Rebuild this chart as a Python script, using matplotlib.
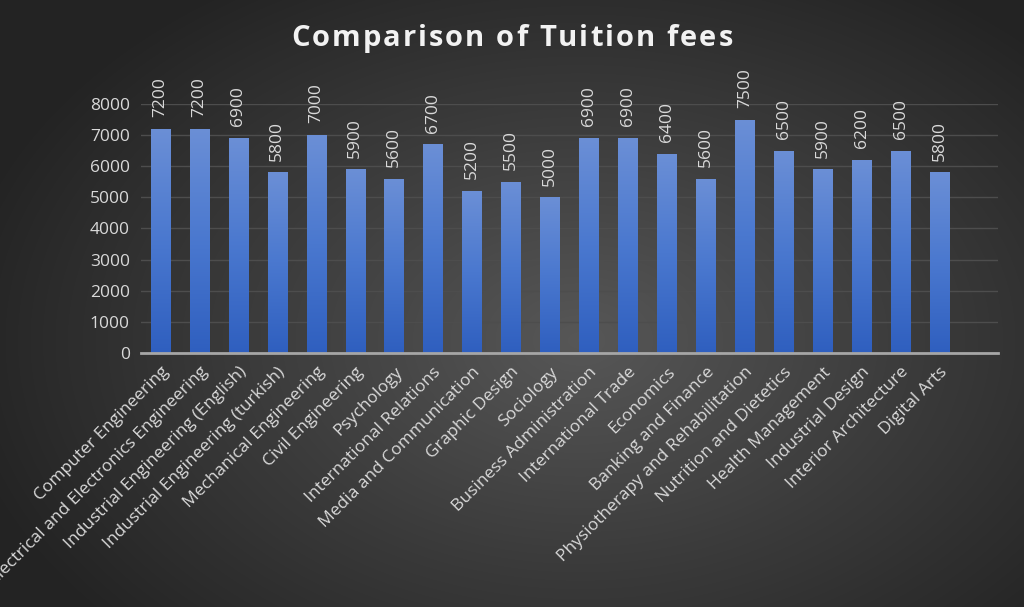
import numpy as np
import matplotlib.pyplot as plt
from matplotlib.colors import LinearSegmentedColormap

plt.rcParams['font.family'] = ['Open Sans', 'DejaVu Sans']

programs = ["Computer Engineering", "Electrical and Electronics Engineering",
            "Industrial Engineering (English)", "Industrial Engineering (turkish)",
            "Mechanical Engineering", "Civil Engineering", "Psychology",
            "International Relations", "Media and Communication", "Graphic Design",
            "Sociology", "Business Administration", "International Trade", "Economics",
            "Banking and Finance", "Physiotherapy and Rehabilitation",
            "Nutrition and Dietetics", "Health Management", "Industrial Design",
            "Interior Architecture", "Digital Arts", ""]
fees = [7200, 7200, 6900, 5800, 7000, 5900, 5600, 6700, 5200, 5500, 5000,
        6900, 6900, 6400, 5600, 7500, 6500, 5900, 6200, 6500, 5800]
title = 'Comparison of Tuition fees'

txt = '#d9d9d9'

fig = plt.figure(figsize=(10.24, 6.07), dpi=100)

# radial background
bg = fig.add_axes([0, 0, 1, 1], zorder=-10)
yy, xx = np.mgrid[0:607, 0:1024]
r = np.sqrt(((xx - 580) / 640.0) ** 2 + ((yy - 340) / 430.0) ** 2)
r = np.clip(r, 0, 1)
bgcmap = LinearSegmentedColormap.from_list('bg', ['#575757', '#3c3c3c', '#232323'])
bg.imshow(r, cmap=bgcmap, aspect='auto', vmin=0, vmax=1)
bg.axis('off')

ax = fig.add_axes([0.1377, 0.4185, 0.8369, 0.4102])
ax.patch.set_alpha(0)

x = np.arange(len(fees))
bars = ax.bar(x, fees, width=0.5, color='#4472c4', zorder=3)

# vertical gradient inside each bar
barcmap = LinearSegmentedColormap.from_list('bar', ['#2f5fbf', '#4a78cf', '#6b8fd6'])
grad = np.linspace(0, 1, 256).reshape(-1, 1)
for b in bars:
    bx, bw, bh = b.get_x(), b.get_width(), b.get_height()
    im = ax.imshow(grad, cmap=barcmap, origin='lower', aspect='auto',
                   extent=[bx, bx + bw, 0, bh], zorder=4)
    im.set_clip_path(b)
    ax.text(bx + bw / 2, bh + 380, str(bh), rotation=90, ha='center', va='bottom',
            color=txt, fontsize=12.5, clip_on=False)

ax.set_xlim(-0.5, len(programs) - 0.5)
ax.set_ylim(0, 8000)
ax.set_yticks(range(0, 8001, 1000))
ax.set_xticks(np.arange(len(programs)))
ax.set_xticklabels(programs, rotation=45, ha='right', rotation_mode='anchor',
                   color=txt, fontsize=12.5)
ax.tick_params(axis='y', colors=txt, labelsize=12.5, length=0, pad=8)
ax.tick_params(axis='x', length=0, pad=8)
ax.grid(axis='y', color='#4d4d4d', linewidth=1, zorder=0)
for s in ['top', 'right', 'left']:
    ax.spines[s].set_visible(False)
ax.spines['bottom'].set_color('#a6a6a6')
ax.spines['bottom'].set_linewidth(2)
ax.spines['bottom'].set_zorder(5)

# title with a bit of letter spacing
renderer = fig.canvas.get_renderer()
tkw = dict(fontsize=21, fontweight='bold')


def text_width(s):
    t = fig.text(0, 0, s, **tkw)
    w = t.get_window_extent(renderer).width
    t.remove()
    return w


space_w = text_width('a a') - text_width('aa')
widths = [space_w if ch == ' ' else text_width(ch) for ch in title]
spacing = 2.0
total = sum(widths) + spacing * (len(title) - 1)
xpos = 512 - total / 2
for ch, w in zip(title, widths):
    if ch != ' ':
        fig.text(xpos / 1024, 0.937, ch, ha='left', va='center', color='#f2f2f2', **tkw)
    xpos += w + spacing

fig.savefig('out.png', dpi=100)
